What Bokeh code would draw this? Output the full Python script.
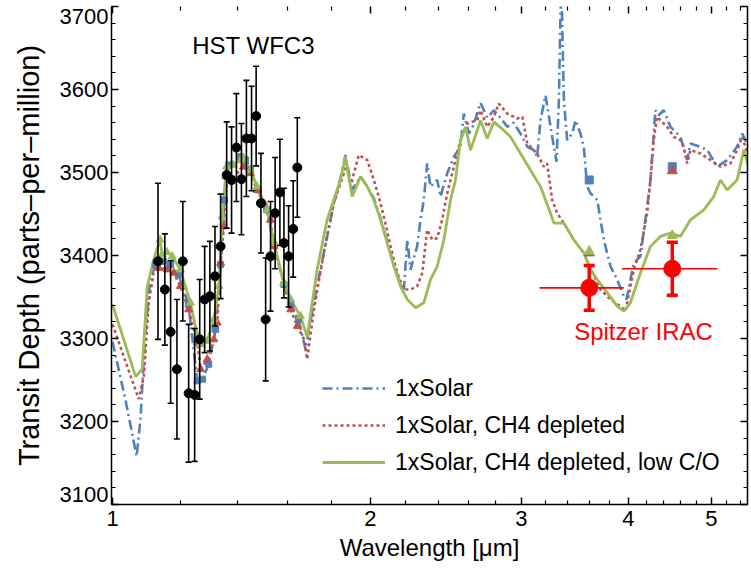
import numpy as np
from bokeh.plotting import figure
from bokeh.models import (LogAxis, LinearAxis, FixedTicker, Range1d, Legend,
                          LegendItem, BasicTickFormatter, CustomJSTickFormatter)
from bokeh.core.properties import value
from bokeh.embed import file_html
from bokeh.resources import INLINE

# ---- model spectra: wavelength [um] and transit depth [ppm] ----
solar_wave = [1.000, 1.035, 1.067, 1.078, 1.093, 1.107, 1.122, 1.147, 1.169, 1.194,
              1.226, 1.256, 1.274, 1.295, 1.319, 1.337, 1.351, 1.366, 1.411, 1.430,
              1.449, 1.480, 1.513, 1.543, 1.585, 1.614, 1.648, 1.680, 1.716, 1.763,
              1.811, 1.845, 1.870, 1.904, 1.947, 1.983, 2.018, 2.055, 2.092, 2.130,
              2.168, 2.188, 2.208, 2.227, 2.267, 2.288, 2.308, 2.329, 2.350, 2.393,
              2.414, 2.458, 2.502, 2.547, 2.570, 2.605, 2.638, 2.688, 2.737, 2.786,
              2.836, 2.888, 2.938, 2.993, 3.048, 3.102, 3.130, 3.158, 3.201, 3.259,
              3.297, 3.318, 3.333, 3.342, 3.351, 3.363, 3.393, 3.439, 3.470, 3.516,
              3.548, 3.580, 3.612, 3.678, 3.744, 3.811, 3.880, 3.951, 3.979, 4.058,
              4.131, 4.206, 4.244, 4.300, 4.336, 4.398, 4.478, 4.600, 4.683, 4.725,
              4.854, 4.943, 5.077, 5.215, 5.356, 5.430, 5.522]
solar_depth = [3296, 3227, 3158, 3203, 3311, 3371, 3389, 3393, 3389, 3377,
               3341, 3249, 3251, 3269, 3311, 3389, 3467, 3509, 3519, 3515,
               3503, 3479, 3455, 3413, 3365, 3341, 3323, 3287, 3341, 3401,
               3461, 3493, 3521, 3479, 3495, 3483, 3469, 3445, 3417, 3388,
               3365, 3359, 3419, 3383, 3411, 3443, 3467, 3511, 3483, 3491,
               3471, 3499, 3519, 3531, 3571, 3547, 3557, 3584, 3566, 3575,
               3566, 3555, 3560, 3547, 3531, 3527, 3519, 3563, 3593, 3543,
               3513, 3587, 3695, 3720, 3659, 3587, 3539, 3547, 3563, 3547,
               3531, 3483, 3475, 3467, 3419, 3387, 3371, 3351, 3347, 3391,
               3399, 3459, 3491, 3575, 3569, 3575, 3555, 3543, 3515, 3535,
               3531, 3527, 3507, 3515, 3531, 3547, 3531]

ch4_wave = [1.000, 1.073, 1.088, 1.102, 1.117, 1.132, 1.158, 1.179, 1.200, 1.227,
            1.256, 1.267, 1.290, 1.313, 1.325, 1.337, 1.349, 1.361, 1.373, 1.422,
            1.449, 1.475, 1.502, 1.529, 1.543, 1.585, 1.614, 1.643, 1.673, 1.687,
            1.718, 1.764, 1.812, 1.862, 1.870, 1.895, 1.938, 1.983, 2.018, 2.045,
            2.073, 2.111, 2.149, 2.188, 2.227, 2.267, 2.299, 2.329, 2.361, 2.393,
            2.425, 2.458, 2.502, 2.547, 2.594, 2.665, 2.688, 2.737, 2.786, 2.823,
            2.888, 2.967, 3.008, 3.048, 3.102, 3.144, 3.186, 3.215, 3.259, 3.303,
            3.363, 3.453, 3.548, 3.612, 3.710, 3.811, 3.915, 3.968, 4.058, 4.131,
            4.206, 4.244, 4.281, 4.320, 4.359, 4.438, 4.518, 4.600, 4.640, 4.683,
            4.725, 4.854, 4.986, 5.122, 5.261, 5.356, 5.430, 5.522]
ch4_depth = [3317, 3227, 3255, 3343, 3379, 3385, 3383, 3379, 3363, 3335,
             3295, 3263, 3275, 3299, 3319, 3391, 3435, 3495, 3491, 3507,
             3499, 3479, 3463, 3443, 3411, 3367, 3335, 3315, 3299, 3275,
             3335, 3403, 3463, 3499, 3515, 3483, 3521, 3515, 3491, 3471,
             3447, 3411, 3379, 3359, 3359, 3363, 3379, 3431, 3419, 3421,
             3443, 3475, 3507, 3539, 3559, 3563, 3575, 3555, 3567, 3583,
             3571, 3565, 3567, 3535, 3527, 3519, 3507, 3511, 3467, 3451,
             3439, 3419, 3403, 3385, 3359, 3347, 3339, 3333, 3383, 3407,
             3451, 3491, 3539, 3567, 3563, 3555, 3543, 3539, 3531, 3511,
             3527, 3523, 3515, 3507, 3511, 3527, 3543, 3519]

lowco_wave = [1.000, 1.064, 1.083, 1.098, 1.117, 1.136, 1.143, 1.158, 1.174, 1.200,
              1.233, 1.256, 1.267, 1.290, 1.313, 1.331, 1.343, 1.355, 1.359, 1.384,
              1.411, 1.422, 1.449, 1.475, 1.515, 1.543, 1.585, 1.614, 1.657, 1.687,
              1.733, 1.780, 1.845, 1.870, 1.904, 1.947, 1.983, 2.018, 2.055, 2.092,
              2.130, 2.168, 2.208, 2.258, 2.308, 2.350, 2.393, 2.436, 2.480, 2.513,
              2.547, 2.582, 2.617, 2.665, 2.688, 2.737, 2.786, 2.861, 2.913, 2.993,
              3.074, 3.158, 3.244, 3.273, 3.363, 3.453, 3.548, 3.612, 3.678, 3.779,
              3.880, 3.951, 4.021, 4.131, 4.244, 4.359, 4.478, 4.600, 4.725, 4.898,
              5.030, 5.122, 5.215, 5.356, 5.453, 5.522]
lowco_depth = [3341, 3254, 3263, 3363, 3395, 3419, 3401, 3404, 3399, 3383,
               3343, 3303, 3293, 3297, 3323, 3363, 3447, 3495, 3507, 3509,
               3515, 3517, 3503, 3483, 3455, 3415, 3367, 3347, 3327, 3302,
               3383, 3443, 3491, 3519, 3471, 3495, 3483, 3467, 3443, 3415,
               3387, 3363, 3347, 3337, 3343, 3371, 3387, 3419, 3467, 3491,
               3539, 3555, 3527, 3551, 3563, 3541, 3561, 3551, 3543, 3523,
               3503, 3483, 3451, 3439, 3439, 3419, 3403, 3383, 3371, 3355,
               3339, 3333, 3343, 3379, 3411, 3423, 3427, 3423, 3443, 3455,
               3471, 3491, 3479, 3491, 3527, 3507]

# ---- HST WFC3 transmission spectrum ----
hst_wave = [1.130, 1.151, 1.169, 1.189, 1.208, 1.227, 1.247, 1.264, 1.281, 1.299,
            1.317, 1.337, 1.359, 1.377, 1.395, 1.414, 1.433, 1.453, 1.471, 1.490,
            1.509, 1.529, 1.548, 1.568, 1.585, 1.605, 1.625, 1.643]
hst_depth = [3393, 3359, 3308, 3263, 3393, 3234, 3232, 3299, 3347, 3351,
             3375, 3411, 3497, 3491, 3530, 3492, 3541, 3541, 3568, 3463,
             3323, 3399, 3451, 3476, 3415, 3399, 3432, 3506]
hst_err = [94, 67, 86, 84, 72, 83, 80, 72, 64, 66,
           60, 63, 64, 64, 65, 67, 70, 63, 60, 60,
           74, 66, 67, 64, 66, 61, 58, 60]

# ---- Spitzer IRAC photometry (3.6 and 4.5 um) ----
irac_wave = [3.6, 4.5]
irac_depth = [3361, 3384]
irac_err = [27, 32]
irac_lo = [3.15, 3.93]
irac_hi = [3.95, 5.08]

# band-averaged models in the IRAC channels
solar_irac = [3491, 3507]
ch4_irac = [3403, 3502]
lowco_irac = [3405, 3424]

# axis ticks
x_major = [1, 2, 3, 4, 5]
x_minor = [1.2, 1.4, 1.6, 1.8, 2.2, 2.4, 2.6, 2.8,
           3.2, 3.4, 3.6, 3.8, 4.2, 4.4, 4.6, 4.8, 5.2, 5.4]
y_major = [3100, 3200, 3300, 3400, 3500, 3600, 3700]
y_minor = list(range(3100, 3720, 20))
y_labels = ["3100", "3200", "3300", "3400", "3500", "3600", "3700"]

BLUE = "#4F81BD"
RED = "#C0504D"
GREEN = "#9BBB59"
FONT = "Liberation Sans"
X0, X1 = 0.9973, 5.508
Y0, Y1 = 3100, 3700

p = figure(width=751, height=574, x_axis_type="log",
           x_range=Range1d(X0, X1), y_range=Range1d(Y0, Y1),
           output_backend="svg", toolbar_location=None,
           min_border_left=111, min_border_right=4,
           min_border_top=6, min_border_bottom=70)
p.xgrid.visible = False
p.ygrid.visible = False
p.outline_line_color = None
p.background_fill_color = "white"

x_ticks = FixedTicker(ticks=x_major, minor_ticks=x_minor)
y_ticks = FixedTicker(ticks=y_major, minor_ticks=y_minor)
blank = CustomJSTickFormatter(code="return ''")


def style_axis(ax, labels=True):
    ax.axis_line_color = "black"
    ax.axis_line_width = 1.5
    ax.major_tick_line_color = "black"
    ax.minor_tick_line_color = "black"
    ax.major_tick_line_width = 1.5
    ax.minor_tick_line_width = 1.2
    ax.major_tick_in = 7
    ax.major_tick_out = 0
    ax.minor_tick_in = 4
    ax.minor_tick_out = 0
    ax.major_label_text_font = FONT
    ax.major_label_text_color = "black"
    ax.major_label_text_font_size = "22px"
    if not labels:
        ax.formatter = blank
        ax.major_label_standoff = 0


xa = p.xaxis[0]
xa.ticker = x_ticks
xa.formatter = BasicTickFormatter()
style_axis(xa)
xa.major_label_standoff = 6
xa.axis_label = "Wavelength [μm]"
xa.axis_label_text_font = FONT
xa.axis_label_text_font_size = "24px"
xa.axis_label_text_font_style = "normal"
xa.axis_label_text_color = "black"
xa.axis_label_standoff = 5

# left spine with its ticks
ya = p.yaxis[0]
ya.ticker = y_ticks
style_axis(ya, labels=False)

# tick labels; the two end labels sit just inside the frame
inset = 12
label_pos = [Y0 + inset] + y_major[1:-1] + [Y1 - inset]
ylab = LinearAxis(ticker=FixedTicker(ticks=label_pos, minor_ticks=[]),
                  major_label_overrides={pos: txt for pos, txt in zip(label_pos, y_labels)})
ylab.axis_line_color = None
ylab.major_tick_line_color = None
ylab.minor_tick_line_color = None
ylab.major_tick_in = 0
ylab.major_tick_out = 0
ylab.major_label_standoff = 3
ylab.major_label_text_font = FONT
ylab.major_label_text_font_size = "22px"
ylab.major_label_text_color = "black"
ylab.axis_label = "Transit Depth (parts–per–million)"
ylab.axis_label_text_font = FONT
ylab.axis_label_text_font_size = "29px"
ylab.axis_label_text_font_style = "normal"
ylab.axis_label_text_color = "black"
ylab.axis_label_standoff = 12
p.add_layout(ylab, "left")

top = LogAxis(ticker=x_ticks)
style_axis(top, labels=False)
top.axis_line_color = None
p.add_layout(top, "above")

right = LinearAxis(ticker=y_ticks)
style_axis(right, labels=False)
p.add_layout(right, "right")

# ---- model curves ----
r_solar = p.line(solar_wave, solar_depth, line_color=BLUE, line_width=2.6,
                 line_dash="10 4 2 4")
r_ch4 = p.line(ch4_wave, ch4_depth, line_color=RED, line_width=2.6,
               line_dash="3 3")
r_lowco = p.line(lowco_wave, lowco_depth, line_color=GREEN, line_width=2.8)


# model points across the WFC3 band
def band(w, d):
    w = np.asarray(w)
    d = np.asarray(d)
    m = (w >= 1.12) & (w <= 1.66)
    return w[m], d[m]


bw, bd = band(solar_wave, solar_depth)
p.scatter(bw, bd, marker="square", size=6, fill_color=BLUE, line_color=BLUE)
bw, bd = band(ch4_wave, ch4_depth)
p.scatter(bw, bd, marker="triangle", size=8, fill_color=RED, line_color=RED)
bw, bd = band(lowco_wave, lowco_depth)
p.scatter(bw, bd, marker="triangle", size=8, fill_color=GREEN, line_color=GREEN)

p.scatter(irac_wave, solar_irac, marker="square", size=8, fill_color=BLUE, line_color=BLUE)
p.scatter(irac_wave, ch4_irac, marker="triangle", size=10, fill_color=RED, line_color=RED)
p.scatter(irac_wave, lowco_irac, marker="triangle", size=10, fill_color=GREEN, line_color=GREEN)

# ---- HST data with error bars ----
hw = np.asarray(hst_wave)
hd = np.asarray(hst_depth)
he = np.asarray(hst_err)
p.segment(hw, hd - he, hw, hd + he, line_color="black", line_width=1.6)
p.scatter(np.concatenate([hw, hw]), np.concatenate([hd - he, hd + he]),
          marker="dash", size=6, line_color="black", line_width=1.6)
p.scatter(hw, hd, marker="circle", size=9, fill_color="black", line_color="black")

# ---- Spitzer points ----
iw = np.asarray(irac_wave)
idp = np.asarray(irac_depth)
ie = np.asarray(irac_err)
p.segment(irac_lo, idp, irac_hi, idp, line_color="#FF0000", line_width=1.6)
p.segment(iw, idp - ie, iw, idp + ie, line_color="#FF0000", line_width=3.5)
p.scatter(np.concatenate([iw, iw]), np.concatenate([idp - ie, idp + ie]),
          marker="dash", size=11, line_color="#FF0000", line_width=3.5)
p.scatter(iw, idp, marker="circle", size=17, fill_color="#FF0000", line_color="#FF0000")

# ---- annotations ----
p.text(x=[1.461], y=[3653], text=["HST WFC3"], text_font=value(FONT),
       text_font_size="24px", text_color="black", text_align="center",
       text_baseline="middle")
p.text(x=[4.165], y=[3308], text=["Spitzer IRAC"], text_font=value(FONT),
       text_font_size="24px", text_color="#FF0000", text_align="center",
       text_baseline="middle")

legend = Legend(items=[LegendItem(label="1xSolar", renderers=[r_solar]),
                       LegendItem(label="1xSolar, CH4 depleted", renderers=[r_ch4]),
                       LegendItem(label="1xSolar, CH4 depleted, low C/O", renderers=[r_lowco])],
                location=(211, 28))
legend.background_fill_alpha = 0
legend.border_line_color = None
legend.label_text_font = FONT
legend.label_text_font_size = "23px"
legend.label_text_color = "black"
legend.glyph_width = 63
legend.glyph_height = 28
legend.label_height = 28
legend.spacing = 9
legend.padding = 0
legend.margin = 0
legend.label_standoff = 10
p.add_layout(legend)

open("out.html", "w").write(file_html(p, INLINE))
